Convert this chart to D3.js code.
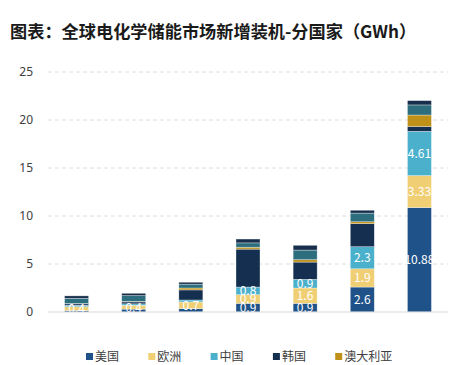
<!DOCTYPE html>
<html>
<head>
<meta charset="utf-8">
<script src="https://cdn.jsdelivr.net/npm/d3@7"></script>
<style>
  body { margin: 0; background: #fff; }
  text { font-family: "Noto Sans CJK SC", "Noto Sans", sans-serif; }
</style>
</head>
<body>
<div id="chart"></div>
<script>
  // categories (years, not drawn on the axis)
  var years = ['2014', '2015', '2016', '2017', '2018', '2019', '2020'];
  // series names, bottom to top
  var seriesNames = ['美国', '欧洲', '中国', '韩国', '澳大利亚', '日本', '其他'];
  var legendNames = ['美国', '欧洲', '中国', '韩国', '澳大利亚'];
  var colors = ['#1f5289', '#f0cf74', '#4bb0cb', '#142f4f', '#bf9119', '#2d6e7e', '#172f4c'];

  var usa       = [0.15, 0.3, 0.35, 0.9, 0.9, 2.6, 10.88];
  var europe    = [0.4, 0.4, 0.7, 0.9, 1.6, 1.9, 3.33];
  var china     = [0.15, 0.15, 0.2, 0.8, 0.9, 2.3, 4.61];
  var korea     = [0.15, 0.2, 1.05, 3.95, 1.8, 2.4, 0.5];
  var australia = [0.03, 0.05, 0.2, 0.2, 0.25, 0.2, 1.2];
  var japan     = [0.55, 0.6, 0.4, 0.45, 1.0, 0.9, 1.05];
  var others    = [0.25, 0.25, 0.2, 0.4, 0.5, 0.3, 0.45];

  var yTicks = [0, 5, 10, 15, 20, 25];

  var width = 459, height = 365;
  var margin = {left: 48, right: 11, top: 72, bottom: 53};

  var svg = d3.select("#chart").append("svg")
    .attr("width", width)
    .attr("height", height);

  svg.append("text")
    .attr("x", 10)
    .attr("y", 38)
    .attr("font-size", 17.2)
    .attr("font-weight", "bold")
    .attr("fill", "#1a1a1a")
    .text("图表：全球电化学储能市场新增装机-分国家（GWh）");

  var table = years.map(function(y, i) {
    var row = {year: y};
    row['美国'] = usa[i];
    row['欧洲'] = europe[i];
    row['中国'] = china[i];
    row['韩国'] = korea[i];
    row['澳大利亚'] = australia[i];
    row['日本'] = japan[i];
    row['其他'] = others[i];
    return row;
  });

  var x = d3.scaleBand()
    .domain(years)
    .range([margin.left, width - margin.right])
    .paddingInner(0.58)
    .paddingOuter(0.29);

  var y = d3.scaleLinear()
    .domain([0, 25])
    .range([height - margin.bottom, margin.top]);

  // grid lines
  svg.append("g")
    .selectAll("line")
    .data(yTicks.filter(function(d) { return d > 0; }))
    .enter().append("line")
    .attr("x1", margin.left)
    .attr("x2", width - margin.right)
    .attr("y1", function(d) { return y(d); })
    .attr("y2", function(d) { return y(d); })
    .attr("stroke", "#dcdcdc")
    .attr("stroke-dasharray", "4,3");

  var yAxis = svg.append("g")
    .attr("transform", "translate(" + margin.left + ",0)")
    .call(d3.axisLeft(y).tickValues(yTicks).tickSize(0).tickPadding(15));
  yAxis.select(".domain").remove();
  yAxis.selectAll("text")
    .attr("font-size", 12)
    .attr("fill", "#404040")
    .style("font-family", "'Noto Sans', sans-serif");

  var stack = d3.stack().keys(seriesNames);
  var series = stack(table);

  var groups = svg.append("g")
    .selectAll("g")
    .data(series)
    .enter().append("g")
    .attr("fill", function(d, i) { return colors[i]; });

  groups.selectAll("rect")
    .data(function(d) { return d; })
    .enter().append("rect")
    .attr("x", function(d) { return x(d.data.year); })
    .attr("width", x.bandwidth())
    .attr("y", function(d) { return y(d[1]); })
    .attr("height", function(d) { return y(d[0]) - y(d[1]); })
    .attr("stroke", "rgba(255,255,255,0.55)")
    .attr("stroke-width", 0.6);

  // value labels on the first three series
  series.slice(0, 3).forEach(function(s) {
    svg.append("g")
      .selectAll("text")
      .data(s.filter(function(d) { return d.data[s.key] >= 0.4; }))
      .enter().append("text")
      .attr("x", function(d) { return x(d.data.year) + x.bandwidth() / 2; })
      .attr("y", function(d) { return (y(d[0]) + y(d[1])) / 2; })
      .attr("dy", "0.36em")
      .attr("text-anchor", "middle")
      .attr("font-size", 12)
      .attr("fill", "#fff")
      .text(function(d) { return d.data[s.key]; });
  });

  // baseline
  svg.append("line")
    .attr("x1", margin.left)
    .attr("x2", width - margin.right)
    .attr("y1", y(0))
    .attr("y2", y(0))
    .attr("stroke", "#d9d9d9");

  // legend
  var legend = svg.append("g")
    .selectAll("g")
    .data(legendNames)
    .enter().append("g")
    .attr("transform", function(d, i) { return "translate(" + (86 + i * 62.3) + ",353)"; });
  legend.append("rect")
    .attr("width", 7)
    .attr("height", 7)
    .attr("fill", function(d, i) { return colors[i]; });
  legend.append("text")
    .attr("x", 9)
    .attr("y", 3.5)
    .attr("dy", "0.36em")
    .attr("font-size", 12)
    .attr("fill", "#404040")
    .text(function(d) { return d; });
</script>
</body>
</html>
